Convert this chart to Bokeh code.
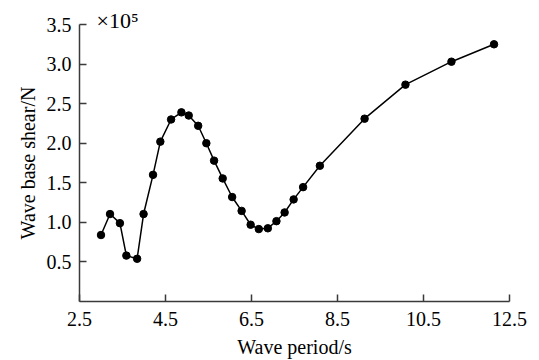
from bokeh.plotting import figure
from bokeh.models import Range1d, FixedTicker, Title, CustomJSTickFormatter
from bokeh.embed import file_html
from bokeh.resources import INLINE

# Wave period (s)
period = [3.00, 3.21, 3.44, 3.59, 3.84, 3.99, 4.21, 4.38, 4.63, 4.87, 5.04, 5.26,
          5.45, 5.63, 5.83, 6.05, 6.27, 6.48, 6.67, 6.88, 7.08, 7.27, 7.48, 7.70,
          8.09, 9.13, 10.08, 11.15, 12.14]
# Wave base shear (x10^5 N)
shear = [0.84, 1.105, 0.99, 0.58, 0.54, 1.105, 1.60, 2.02, 2.30, 2.39, 2.35, 2.22,
         2.00, 1.78, 1.555, 1.32, 1.145, 0.97, 0.915, 0.925, 1.015, 1.125, 1.29, 1.445,
         1.715, 2.31, 2.74, 3.03, 3.25]

x_ticks = [2.5, 4.5, 6.5, 8.5, 10.5, 12.5]
y_ticks = [0.5, 1.0, 1.5, 2.0, 2.5, 3.0, 3.5]

FONT = "Liberation Serif"
AX = "#3a3a3a"

p = figure(width=539, height=360, output_backend="svg", toolbar_location=None,
           x_range=Range1d(2.5, 12.5), y_range=Range1d(0, 3.5),
           min_border_left=79, min_border_right=30, min_border_top=24,
           min_border_bottom=57)
p.outline_line_color = None
p.xgrid.visible = False
p.ygrid.visible = False
p.background_fill_color = "white"
p.border_fill_color = "white"

p.line(period, shear, line_color="black", line_width=1.5)
p.scatter(period, shear, size=7.5, fill_color="black", line_color="black")

for ax in (p.xaxis[0], p.yaxis[0]):
    ax.axis_line_color = AX
    ax.axis_line_width = 1.5
    ax.major_tick_line_color = AX
    ax.major_tick_line_width = 1.5
    ax.major_tick_in = 7
    ax.major_tick_out = 0
    ax.minor_tick_line_color = None
    ax.major_label_text_font = FONT
    ax.major_label_text_font_size = "20px"
    ax.major_label_text_color = "black"
    ax.axis_label_text_font = FONT
    ax.axis_label_text_font_size = "20px"
    ax.axis_label_text_font_style = "normal"
    ax.axis_label_text_color = "black"

p.xaxis.ticker = FixedTicker(ticks=x_ticks)
p.yaxis.ticker = FixedTicker(ticks=y_ticks)
p.xaxis.formatter = CustomJSTickFormatter(code="return tick.toFixed(1);")
p.yaxis.formatter = CustomJSTickFormatter(code="return tick.toFixed(1);")
p.xaxis.axis_label = "Wave period/s"
p.yaxis.axis_label = "Wave base shear/N"
p.xaxis.major_label_standoff = 10
p.yaxis.major_label_standoff = 8
p.xaxis.axis_label_standoff = 7
p.yaxis.axis_label_standoff = 5

# multiplier label above the frame
p.add_layout(Title(text="×10⁵", align="left", offset=17, standoff=-16,
                   text_font=FONT, text_font_size="22px",
                   text_font_style="normal", text_color="black"), "above")

open("out.html", "w").write(file_html(p, INLINE))
